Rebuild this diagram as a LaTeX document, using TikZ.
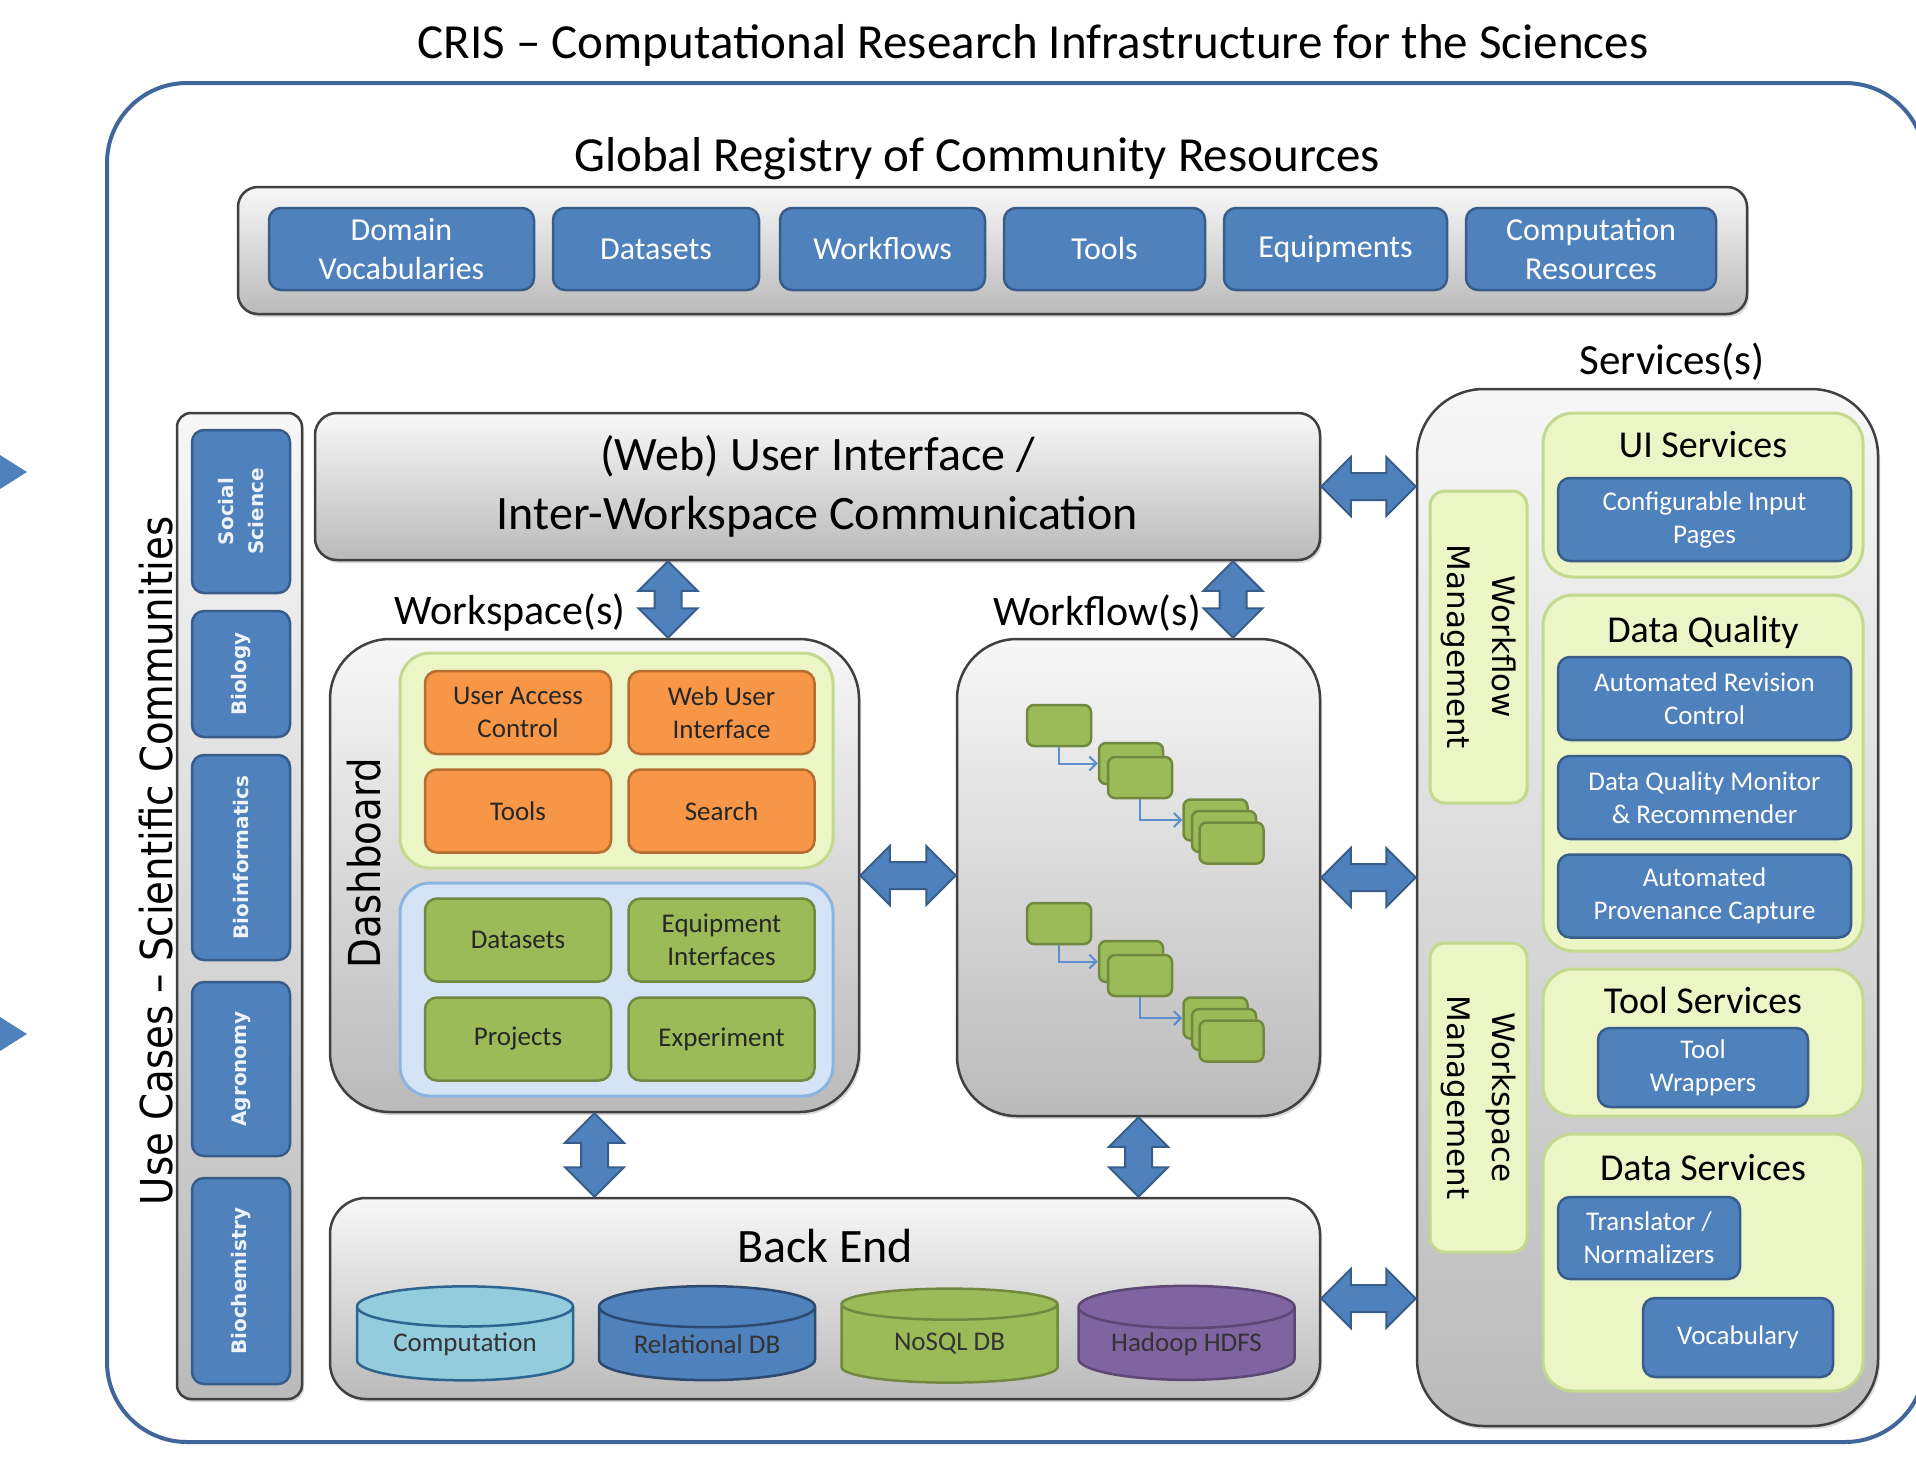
\documentclass[tikz,border=0pt]{standalone}
\usepackage{fontspec}
\setmainfont{Carlito}
\newfontfamily\vfont[FakeStretch=0.88]{DejaVu Sans}
\newfontfamily\mfont{DejaVu Sans}
\usetikzlibrary{arrows.meta,calc,shapes.geometric,shapes.arrows,shadows}
\definecolor{crisblue}{HTML}{4F81BD}
\definecolor{crisbluedk}{HTML}{385D8A}
\definecolor{frameblue}{HTML}{41679A}
\definecolor{orangeA}{HTML}{F79646}
\definecolor{orangedk}{HTML}{B66D31}
\definecolor{greenA}{HTML}{9BBB59}
\definecolor{greendk}{HTML}{71893F}
\definecolor{limebg}{HTML}{EBF5C6}
\definecolor{limedk}{HTML}{C3DA8E}
\definecolor{skybg}{HTML}{D5E3F6}
\definecolor{skydk}{HTML}{8DB3E2}
\definecolor{aqua}{HTML}{93CDDD}
\definecolor{aquadk}{HTML}{2E6490}
\definecolor{navydk}{HTML}{2C4A70}
\definecolor{purpleA}{HTML}{8064A2}
\definecolor{purpledk}{HTML}{5C4776}
\definecolor{flowblue}{HTML}{5B8FD0}
\newcommand{\fs}[2]{\fontsize{#1}{#2}\selectfont}
\tikzstyle{cisframe}=[draw=frameblue, line width=4pt, rounded corners=80pt]
\tikzstyle{graybox}=[draw=black!75, line width=2.5pt, top color=black!3, bottom color=black!27, inner sep=0pt, drop shadow={shadow xshift=2pt, shadow yshift=-3pt, opacity=0.3}]
\tikzstyle{resbox}=[draw=crisbluedk, fill=crisblue, line width=2.5pt, rounded corners=12pt, text=white, align=center, inner sep=0pt, minimum height=82, font=\fs{32}{39}]
\tikzstyle{svcbox}=[resbox, minimum width=293, minimum height=83, font=\fs{27}{33}]
\tikzstyle{fieldbox}=[resbox, rotate=90, minimum height=98, text=white!90!crisblue, font=\mfont\bfseries\fs{20}{30}]
\tikzstyle{orangebox}=[draw=orangedk, fill=orangeA, line width=2.5pt, rounded corners=12pt, text=black!85, align=center, inner sep=0pt, minimum width=186, minimum height=83, font=\fs{27}{33}]
\tikzstyle{greenbox}=[orangebox, draw=greendk, fill=greenA]
\tikzstyle{limebox}=[draw=limedk, fill=limebg, line width=3pt, rounded corners=30pt, inner sep=0pt]
\tikzstyle{skybox}=[limebox, draw=skydk, fill=skybg]
\tikzstyle{mgmtbox}=[limebox, rounded corners=15pt, rotate=-90, align=center, font=\mfont\fs{31}{45}]
\tikzstyle{flowbox}=[draw=greendk, fill=greenA, line width=2.5pt, rounded corners=7pt, minimum width=64, minimum height=41, inner sep=0pt]
\tikzstyle{flowline}=[draw=flowblue, line width=2pt, -{Straight Barb[length=7pt,width=14pt]}]
\tikzstyle{dbcyl}=[cylinder, shape border rotate=90, aspect=0.28, line width=2.5pt, minimum width=216, minimum height=94, inner sep=0pt, text=black!80, font=\fs{27}{33}]
\tikzstyle{fatarrow}=[double arrow, draw=crisbluedk, fill=crisblue, line width=2pt, inner xsep=0pt, inner ysep=12.5pt, minimum width=58, double arrow head extend=16]
\tikzstyle{heading}=[font=\fs{38}{46}]
\newcommand{\resource}{\node[resbox]}
\newcommand{\service}{\node[svcbox]}
\newcommand{\fatlink}[4][0]{\path let \p1=(#3), \p2=(#4) in
  node[fatarrow, rotate=#1, minimum height={veclen(\x2-\x1,\y2-\y1)}] (#2) at ($(\p1)!.5!(\p2)$) {};}

\begin{document}
\begin{tikzpicture}[x=1pt, y=-1pt]
\useasboundingbox (0,0) rectangle (1916,1457);
\clip (0,0) rectangle (1916,1457);
\node[cisframe, minimum width=1818, minimum height=1359] (cris) at (1016,762.5) {};
\node[font=\fs{49}{59}] (title) at (1033,45) {CRIS – Computational Research Infrastructure for the Sciences};
\fill[crisblue] (0,455) -- (27,472) -- (0,489) -- cycle;
\fill[crisblue] (0,1017) -- (27,1034) -- (0,1051) -- cycle;

\node[font=\fs{49}{59}] (regtitle) at (977,159) {Global Registry of Community Resources};
\node[graybox, rounded corners=20pt, minimum width=1509, minimum height=127] (reg) at (992.5,250.5) {};
\resource (dv) [minimum width=265] at (401.5,249) {Domain\\Vocabularies};
\resource (rds) [minimum width=206] at (656,249) {Datasets};
\resource (rwf) [minimum width=205] at (882.5,249) {Workflows};
\resource (rtl) [minimum width=201] at (1104.5,249) {Tools};
\resource (req) [minimum width=223] at (1335.5,249) {Equipments};
\resource (rcr) [minimum width=250] at (1591,249) {Computation\\Resources};

\node[graybox, rounded corners=14pt, minimum width=125, minimum height=986] (uccol) at (239.5,906) {};
\node[font=\vfont\fs{44}{50}, rotate=90] (uc) at (156,861) {Use Cases – Scientific Communities};
\node[fieldbox, minimum width=163] (soc) at (241,511.5) {Social\\Science};
\node[fieldbox, minimum width=126] (bio) at (241,674) {Biology};
\node[fieldbox, minimum width=205] (binf) at (241,857.5) {Bioinformatics};
\node[fieldbox, minimum width=174] (agr) at (241,1069) {Agronomy};
\node[fieldbox, minimum width=206] (bchem) at (241,1281) {Biochemistry};

\node[graybox, rounded corners=22pt, minimum width=1005, minimum height=147, align=center, font=\fs{48}{59}] (ui) at (817.5,486.5) {(Web) User Interface /\\Inter-Workspace Communication};

\node[font=\fs{42}{50}] (wslabel) at (510,613) {Workspace(s)};
\node[graybox, rounded corners=60pt, minimum width=529, minimum height=473] (ws) at (594.5,875.5) {};
\node[font=\vfont\fs{44}{50}, rotate=90] (dash) at (364,863) {Dashboard};
\node[limebox, minimum width=433, minimum height=215] (wstop) at (616.5,760.5) {};
\node[orangebox] (uac) at (518,712.5) {User Access\\Control};
\node[orangebox] (wui) at (721.5,712.5) {Web User\\Interface};
\node[orangebox] (wtl) at (518,811) {Tools};
\node[orangebox] (wse) at (721.5,811) {Search};
\node[skybox, minimum width=433, minimum height=213] (wsbot) at (616.5,989.5) {};
\node[greenbox] (wds) at (518,940) {Datasets};
\node[greenbox] (wei) at (721.5,940) {Equipment\\Interfaces};
\node[greenbox] (wpr) at (518,1039) {Projects};
\node[greenbox] (wex) at (721.5,1039) {Experiment};

\node[font=\fs{42}{50}] (wflabel) at (1097,613) {Workflow(s)};
\node[graybox, rounded corners=60pt, minimum width=363, minimum height=477] (wf) at (1138.5,877.5) {};
\node[flowbox] (s1) at (1059,725.5) {};
\node[flowbox] (d1back) at (1131,763.5) {};
\node[flowbox] (d1) at (1140,777.5) {};
\node[flowbox] (t1back) at (1215.5,820) {};
\node[flowbox] (t1mid) at (1224,831.5) {};
\node[flowbox] (t1) at (1231.5,843) {};
\draw[flowline] (s1.south) |- (d1back.west);
\draw[flowline] (d1.south) |- (t1back.west);
\node[flowbox] (s2) at (1059,923.5) {};
\node[flowbox] (d2back) at (1131,961.5) {};
\node[flowbox] (d2) at (1140,975.5) {};
\node[flowbox] (t2back) at (1215.5,1018) {};
\node[flowbox] (t2mid) at (1224,1029.5) {};
\node[flowbox] (t2) at (1231.5,1041) {};
\draw[flowline] (s2.south) |- (d2back.west);
\draw[flowline] (d2.south) |- (t2back.west);

\node[font=\fs{43}{50}] (svclabel) at (1672,362) {Services(s)};
\node[graybox, rounded corners=67pt, minimum width=461, minimum height=1037] (svc) at (1647.5,907.5) {};
\node[mgmtbox, minimum width=312, minimum height=97] (wfm) at (1478.5,647) {Workflow\\Management};
\node[mgmtbox, minimum width=309, minimum height=97] (wsm) at (1478.5,1097.5) {Workspace\\Management};
\node[limebox, minimum width=320, minimum height=164] (uis) at (1703,495) {};
\node[heading] (uistitle) at (1703,445) {UI Services};
\service (cfg) at (1704.5,519.5) {Configurable Input\\Pages};
\node[limebox, minimum width=320, minimum height=356] (dq) at (1703,773) {};
\node[heading] (dqtitle) at (1703,632) {Data Quality};
\service (arc) at (1704.5,698.5) {Automated Revision\\Control};
\service (dqm) at (1704.5,797.5) {Data Quality Monitor\\\& Recommender};
\service (apc) at (1704.5,896) {Automated\\Provenance Capture};
\node[limebox, minimum width=320, minimum height=147] (tls) at (1703,1042.5) {};
\node[heading] (tlstitle) at (1703,1000) {Tool Services};
\service (tw) [minimum width=210, minimum height=79] at (1703,1067.5) {Tool\\Wrappers};
\node[limebox, minimum width=320, minimum height=257] (das) at (1703,1262.5) {};
\node[heading] (dastitle) at (1703,1168) {Data Services};
\service (tn) [minimum width=182, minimum height=82] at (1649,1238) {Translator /\\Normalizers};
\service (voc) [minimum width=190, minimum height=79] at (1738,1337.5) {Vocabulary};

\node[graybox, rounded corners=36pt, minimum width=990, minimum height=201] (be) at (825,1298.5) {};
\node[font=\fs{48}{56}] (betitle) at (825,1246) {Back End};
\node[dbcyl, draw=aquadk, fill=aqua] (comp) at (465,1344) {Computation};
\node[dbcyl, draw=navydk, fill=crisblue] (rdb) at (707,1344) {Relational DB};
\node[dbcyl, draw=greendk, fill=greenA] (nosql) at (949.5,1344) {NoSQL DB};
\node[dbcyl, draw=purpledk, fill=purpleA] (hdfs) at (1186.5,1344) {Hadoop HDFS};

\coordinate (wsx) at (668,0);
\coordinate (wfx) at (1233,0);
\fatlink{h1}{ui.east}{svc.west |- ui.east}
\fatlink{h2}{ws.east}{wf.west |- ws.east}
\fatlink{h3}{wf.east}{svc.west |- wf.east}
\fatlink{h4}{be.east}{svc.west |- be.east}
\fatlink[90]{v1}{ui.south -| wsx}{ws.north -| wsx}
\fatlink[90]{v2}{ui.south -| wfx}{wf.north -| wfx}
\fatlink[90]{v3}{ws.south}{be.north -| ws.south}
\fatlink[90]{v4}{wf.south}{be.north -| wf.south}
\end{tikzpicture}
\end{document}
